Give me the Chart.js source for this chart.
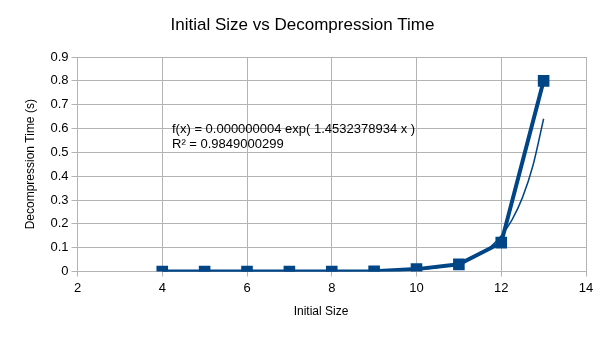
<!DOCTYPE html>
<html>
<head>
<meta charset="utf-8">
<script src="https://cdn.jsdelivr.net/npm/chart.js@4/dist/chart.umd.min.js"></script>
<style>
  html, body { margin: 0; padding: 0; background: #ffffff; }
  #wrap { width: 605px; height: 340px; }
</style>
</head>
<body>
<div id="wrap"><canvas id="c" width="605" height="340"></canvas></div>
<script>
// ---- data ----
const sizes = [4, 5, 6, 7, 8, 9, 10, 11, 12, 13];
const times = [0, 0, 0, 0, 0, 0.001, 0.01, 0.03, 0.121, 0.8];

// exponential trendline as it appears in the picture
const trendX = [4, 6, 8, 9, 9.5, 10, 10.5, 11, 11.25, 11.5, 11.75, 12, 12.25, 12.5, 12.75, 13];
const trendY = [0.000001, 0.00003, 0.00045, 0.0019, 0.0040, 0.0082, 0.0169, 0.035, 0.0504, 0.0725, 0.104, 0.150, 0.2155, 0.310, 0.446, 0.641];

const xTicks = ['2', '4', '6', '8', '10', '12', '14'];
const yTicks = ['0', '0.1', '0.2', '0.3', '0.4', '0.5', '0.6', '0.7', '0.8', '0.9'];

const titleText = 'Initial Size vs Decompression Time';
const xTitle = 'Initial Size';
const yTitle = 'Decompression Time (s)';
const equationLines = ['f(x) = 0.000000004 exp( 1.4532378934 x )', 'R\u00B2 = 0.9849000299'];

// ---- chart ----
const FONT = '"Liberation Sans", Arial, sans-serif';
const BLUE = '#004586';
const GRID = '#b3b3b3';

const dataPoints = sizes.map((x, i) => ({ x: x, y: times[i] }));
const trendPoints = trendX.map((x, i) => ({ x: x, y: trendY[i] }));

const textPlugin = {
  id: 'texts',
  afterDatasetsDraw(chart) {
    const { ctx, scales } = chart;
    const px = scales.x.getPixelForValue(4.23);
    const py = scales.y.getPixelForValue(0.597);
    ctx.save();
    ctx.font = '13px ' + FONT;
    ctx.fillStyle = '#000000';
    ctx.textBaseline = 'middle';
    ctx.textAlign = 'left';
    equationLines.forEach((t, i) => ctx.fillText(t, px, py + i * 15));
    // x-axis title (placed like the reference, left of the plot centre)
    ctx.font = '12px ' + FONT;
    ctx.textAlign = 'center';
    ctx.fillText(xTitle, 321, 312);
    ctx.restore();
  }
};

new Chart(document.getElementById('c'), {
  type: 'scatter',
  data: {
    datasets: [
      {
        label: 'Decompression Time',
        data: dataPoints,
        showLine: true,
        borderColor: BLUE,
        backgroundColor: BLUE,
        borderWidth: 4,
        pointStyle: 'rect',
        pointRadius: 8.2,
        pointHoverRadius: 8.2,
        pointBorderWidth: 0,
        order: 1
      },
      {
        label: 'Trend',
        data: trendPoints,
        showLine: true,
        borderColor: BLUE,
        backgroundColor: BLUE,
        borderWidth: 1.5,
        pointRadius: 0,
        pointHoverRadius: 0,
        cubicInterpolationMode: 'monotone',
        order: 2
      }
    ]
  },
  options: {
    responsive: false,
    animation: false,
    devicePixelRatio: 1,
    layout: { padding: { left: 19, right: 19, top: 0, bottom: 0 } },
    plugins: {
      legend: { display: false },
      tooltip: { enabled: false },
      title: {
        display: true,
        text: titleText,
        color: '#000000',
        font: { family: FONT, size: 17, weight: 'normal' },
        padding: { top: 15, bottom: 21.6 }
      }
    },
    scales: {
      x: {
        type: 'linear',
        min: 2,
        max: 14,
        afterBuildTicks(scale) {
          scale.ticks = xTicks.map(t => ({ value: Number(t) }));
        },
        ticks: {
          color: '#000000',
          font: { family: FONT, size: 13 },
          padding: 4,
          maxRotation: 0,
          callback: (v) => xTicks[xTicks.indexOf(String(v))]
        },
        grid: { color: GRID, lineWidth: 1, tickLength: 5, drawTicks: true },
        border: { color: GRID, width: 1 },
        title: { display: false, text: xTitle },
        afterFit(scale) { scale.height = 68.5; }
      },
      y: {
        type: 'linear',
        min: 0,
        max: 0.9,
        afterBuildTicks(scale) {
          scale.ticks = yTicks.map(t => ({ value: Number(t) }));
        },
        ticks: {
          color: '#000000',
          font: { family: FONT, size: 13 },
          padding: 3,
          callback: (v, i) => yTicks[i]
        },
        grid: { color: GRID, lineWidth: 1, tickLength: 6, drawTicks: true },
        border: { color: GRID, width: 1 },
        title: {
          display: true,
          text: yTitle,
          color: '#000000',
          font: { family: FONT, size: 12 },
          padding: { top: 4.5, bottom: 0 }
        },
        afterFit(scale) { scale.width = 58.5; }
      }
    }
  },
  plugins: [textPlugin]
});
</script>
</body>
</html>
